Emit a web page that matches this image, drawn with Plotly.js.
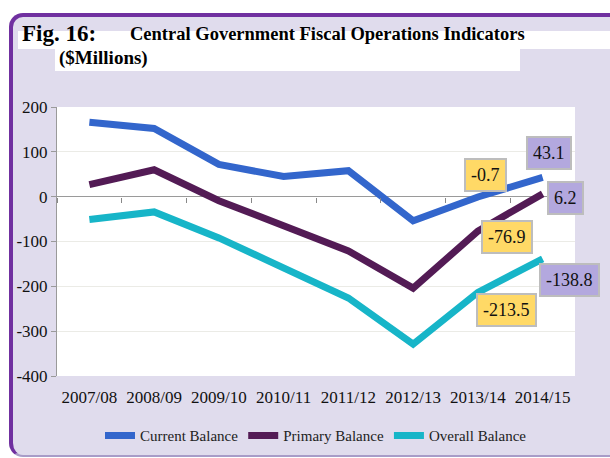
<!DOCTYPE html>
<html>
<head>
<meta charset="utf-8">
<script src="https://cdn.plot.ly/plotly-3.0.1.min.js"></script>
<style>
  html, body { margin:0; padding:0; background:#ffffff; width:610px; height:458px; overflow:hidden; }
  #frame { position:absolute; left:9px; top:13px; width:640px; height:438px;
           background:#E0DCED; border-left:4px solid #7030A0; border-top:4px solid #7030A0;
           border-bottom:2px solid #A89CC8; border-radius:14px 0 0 14px; }
  #band1 { position:absolute; left:18px; top:31px; width:600px; height:18px; background:#ffffff; }
  #band2 { position:absolute; left:55px; top:49px; width:465px; height:22px; background:#ffffff; }
  #chart { position:absolute; left:0; top:0; width:610px; height:458px; }
</style>
</head>
<body>
<div id="frame"></div>
<div id="band1"></div>
<div id="band2"></div>
<div id="chart"></div>
<script>
const categories = ["2007/08","2008/09","2009/10","2010/11","2011/12","2012/13","2013/14","2014/15"];
const currentBalance = [166, 152, 72, 45, 58, -54, -0.7, 43.1];
const primaryBalance = [27, 60, -9, -67, -121, -204, -76.9, 6.2];
const overallBalance = [-51, -34, -92, -161, -226, -329, -213.5, -138.8];
const yTickVals = [200, 100, 0, -100, -200, -300, -400];
const yTickText = ["200", "100", "0", "-100", "-200", "-300", "-400"];

const serif = "Liberation Serif";

const traces = [
  {x: categories, y: currentBalance, name: "Current Balance", type: "scatter", mode: "lines",
   line: {color: "#3366CC", width: 7}},
  {x: categories, y: primaryBalance, name: "Primary Balance", type: "scatter", mode: "lines",
   line: {color: "#531B55", width: 7}},
  {x: categories, y: overallBalance, name: "Overall Balance", type: "scatter", mode: "lines",
   line: {color: "#17B5C8", width: 7}},
  {x: categories, y: categories.map(() => null), xaxis: "x2", showlegend: false,
   hoverinfo: "skip", mode: "lines", type: "scatter"}
];

const yellow = "#FFD966", purple = "#B3A8DE", boxBorder = "#BDBDBD";
function lab(xi, val, txt, bg, xs, ys) {
  return {x: categories[xi], y: val, text: txt, showarrow: false, xshift: xs, yshift: ys,
          bgcolor: bg, bordercolor: boxBorder, borderwidth: 2, borderpad: 5,
          font: {family: serif, size: 18, color: "#111"}};
}

const annotations = [
  lab(6, currentBalance[6], "-0.7", yellow, 8, 22),
  lab(7, currentBalance[7], "43.1", purple, 6, 24),
  lab(7, primaryBalance[7], "6.2", purple, 23, -4),
  lab(6, primaryBalance[6], "-76.9", yellow, 29, -6),
  lab(7, overallBalance[7], "-138.8", purple, 27, -21),
  lab(6, overallBalance[6], "-213.5", yellow, 29, -18),
  {xref: "paper", yref: "paper", x: -0.072, y: 1.22, xanchor: "left", yanchor: "bottom",
   text: "<b>Fig. 16:</b>", showarrow: false, font: {family: serif, size: 23, color: "#000"}},
  {xref: "paper", yref: "paper", x: 0.138, y: 1.226, xanchor: "left", yanchor: "bottom",
   text: "<b>Central Government Fiscal Operations Indicators</b>", showarrow: false,
   font: {family: serif, size: 18.5, color: "#000"}},
  {xref: "paper", yref: "paper", x: 0.0, y: 1.135, xanchor: "left", yanchor: "bottom",
   text: "<b>($Millions)</b>", showarrow: false, font: {family: serif, size: 19, color: "#000"}}
];

const layout = {
  width: 610, height: 458,
  margin: {l: 57, r: 35, t: 107, b: 82, autoexpand: false},
  paper_bgcolor: "rgba(0,0,0,0)",
  plot_bgcolor: "#ffffff",
  showlegend: true,
  legend: {orientation: "h", x: 0.5, xanchor: "center", y: -0.222, yanchor: "middle",
           font: {family: serif, size: 15, color: "#222"}, bgcolor: "rgba(0,0,0,0)",
           itemwidth: 30, tracegroupgap: 0},
  xaxis: {type: "category", categoryorder: "array", categoryarray: categories,
          range: [-0.5, 7.5], showline: false, ticks: "", showgrid: false, zeroline: false,
          tickfont: {family: serif, size: 17, color: "#111"}, ticklabelstandoff: 9},
  xaxis2: {type: "category", categoryorder: "array", categoryarray: categories,
           overlaying: "x", anchor: "free", position: 400/600, side: "bottom",
           range: [-0.5, 7.5], showline: false, showgrid: false, zeroline: false,
           ticks: "outside", tickson: "boundaries", ticklen: 5, tickcolor: "#888", tickwidth: 1,
           showticklabels: false},
  yaxis: {range: [-400, 200], tickvals: yTickVals, ticktext: yTickText,
          showline: true, linecolor: "#9a9a9a", linewidth: 1,
          ticks: "outside", ticklen: 5, tickcolor: "#9a9a9a",
          showgrid: true, gridcolor: "#EBEBE6", gridwidth: 1,
          zeroline: true, zerolinecolor: "#9a9a9a", zerolinewidth: 1.5,
          tickfont: {family: serif, size: 17, color: "#111"}},
  annotations: annotations
};

Plotly.newPlot("chart", traces, layout, {staticPlot: true, displayModeBar: false});
</script>
</body>
</html>
